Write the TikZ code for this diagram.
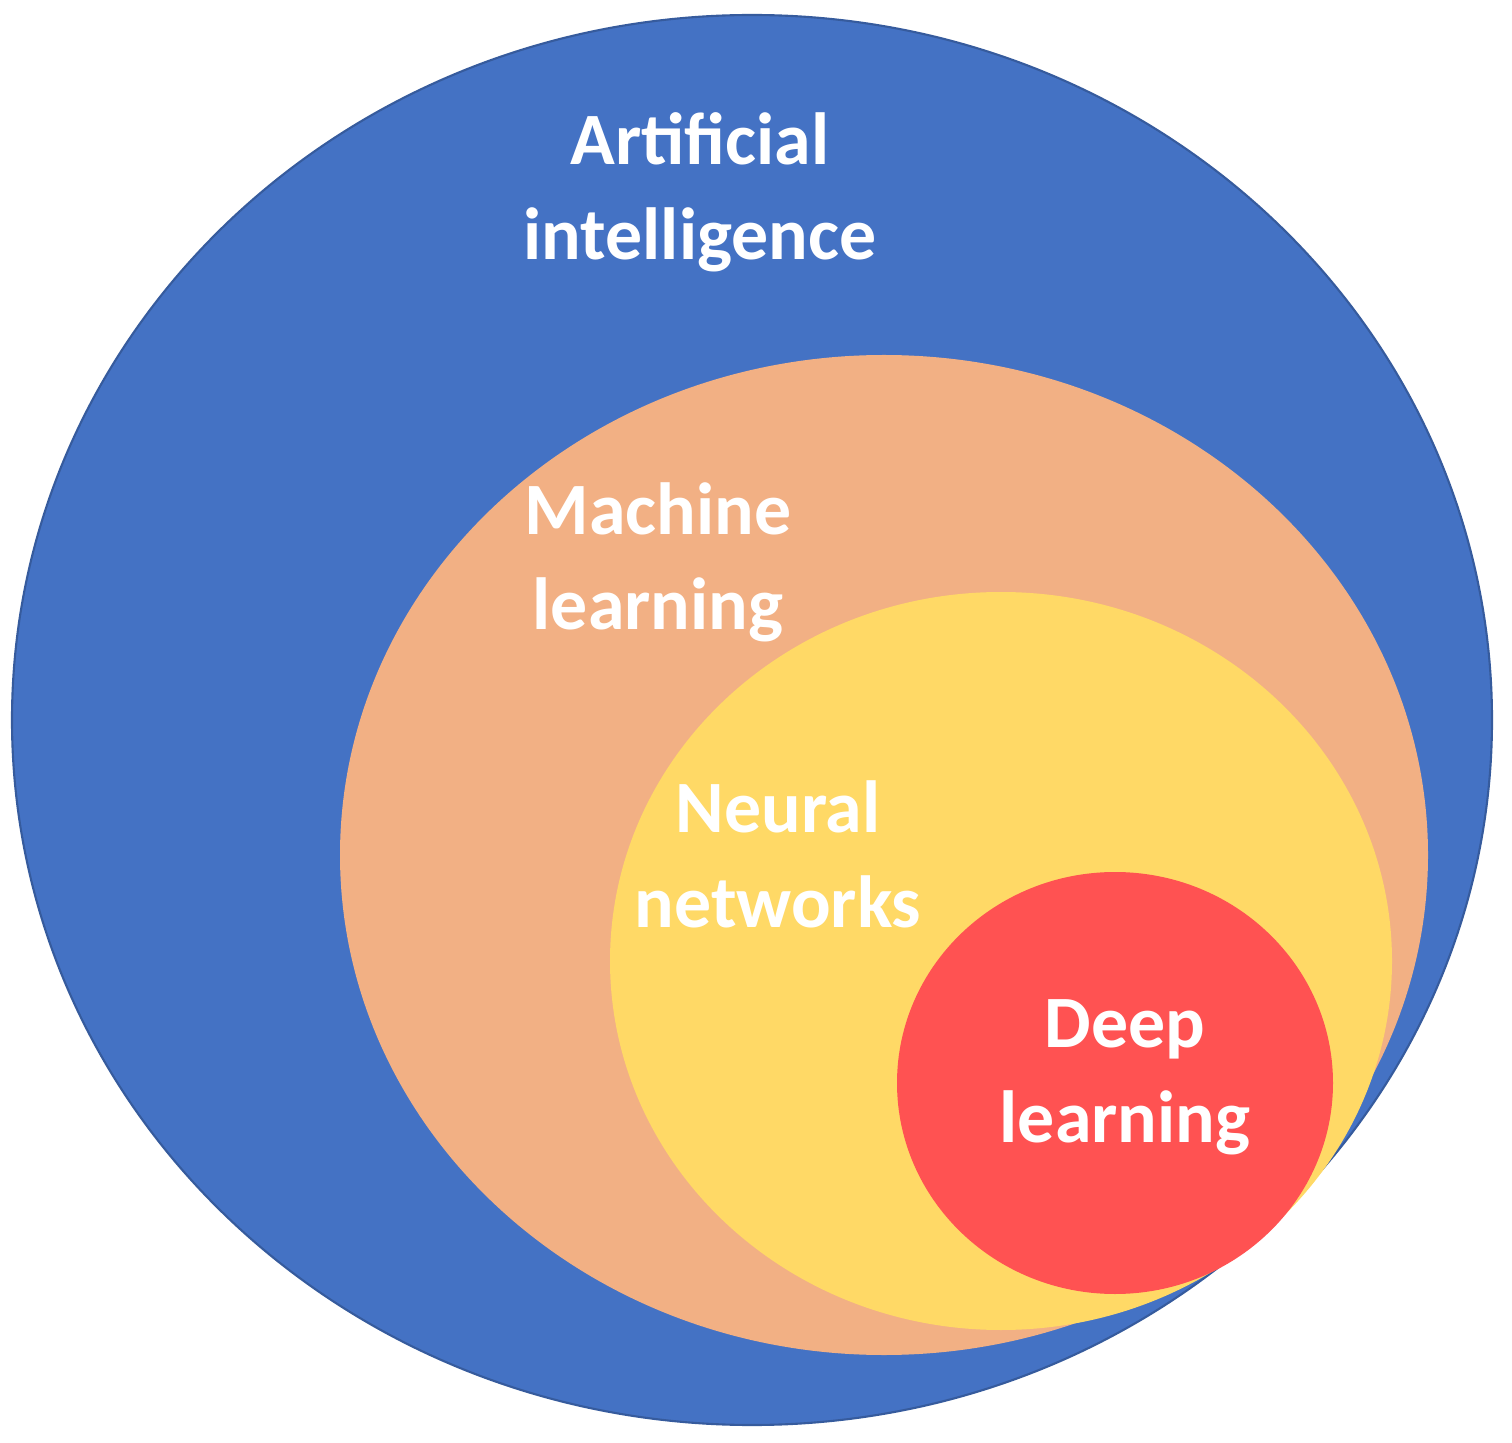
\documentclass[tikz,border=0pt]{standalone}
\usepackage{fontspec}
\setmainfont{Carlito}
\definecolor{aiblue}{HTML}{4472C4}
\definecolor{mlorange}{HTML}{F2B084}
\definecolor{nnyellow}{HTML}{FFD966}
\definecolor{dlred}{HTML}{FF5252}
\begin{document}
\begin{tikzpicture}[x=0.01cm,y=-0.01cm,
  lbl/.style={text=white,font=\fontsize{21}{27}\selectfont\bfseries,align=center}]
\useasboundingbox (0,0) rectangle (1512,1443);
\fill[white] (0,0) rectangle (1512,1443);
\draw[fill=aiblue,draw=aiblue!80!black,line width=0.6pt] (752,720) ellipse [x radius=740,y radius=705];
\fill[mlorange] (884,855) ellipse [x radius=544,y radius=500];
\fill[nnyellow] (1001,961) ellipse [x radius=391,y radius=369];
\fill[dlred] (1115,1083) ellipse [x radius=218,y radius=211];
\node[lbl] (ai) at (700,192) {Artificial\\intelligence};
\node[lbl] (ml) at (658,562) {Machine\\learning};
\node[lbl] (nn) at (778,854) {Neural\\networks};
\node[lbl] (dl) at (1125,1077) {Deep\\learning};
\end{tikzpicture}
\end{document}
